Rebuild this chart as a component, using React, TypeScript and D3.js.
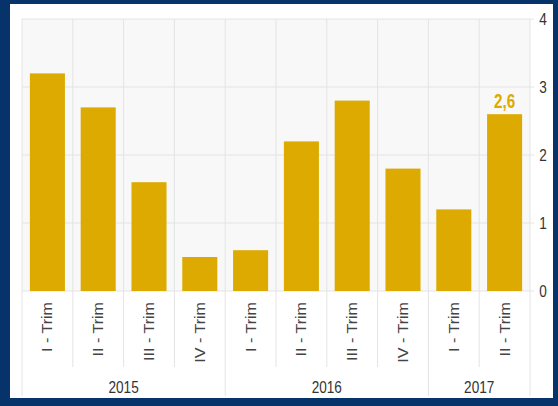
import React from 'react';
import * as d3 from 'd3';

// Quarterly values
const quarters = ['I - Trim', 'II - Trim', 'III - Trim', 'IV - Trim', 'I - Trim', 'II - Trim', 'III - Trim', 'IV - Trim', 'I - Trim', 'II - Trim'];
const years = ['2015', '2015', '2015', '2015', '2016', '2016', '2016', '2016', '2017', '2017'];
const values = [3.2, 2.7, 1.6, 0.5, 0.6, 2.2, 2.8, 1.8, 1.2, 2.6];
const yTicks = [0, 1, 2, 3, 4];
const highlightIndex = 9;
const highlightLabel = '2,6';

const W = 558;
const H = 406;
const NAVY = '#06346a';
const GOLD = '#dcaa00';
const GRID = '#e4e4e4';
const FONT = '"Liberation Sans", Arial, sans-serif';
// the reference text is slightly condensed horizontally
const SQUEEZE = 0.8;

const App = () => {
  // Layout
  const panel = { x: 10, y: 4, w: 543, h: 394 };
  const plot = { left: 22, right: 530, top: 19, bottom: 291 };
  const labelBottom = 367;
  const panelBottom = panel.y + panel.h;

  const idx = values.map((_, i) => String(i));

  // one cell per quarter, used for separator lines
  const cell = d3.scaleBand<string>().domain(idx).range([plot.left, plot.right]).padding(0);
  // bars centred inside their cells
  const x = d3.scaleBand<string>()
    .domain(idx)
    .range([plot.left, plot.right])
    .paddingInner(0.31)
    .paddingOuter(0.155);
  const y = d3.scaleLinear().domain([0, 4]).range([plot.bottom, plot.top]);

  // year groups
  const groups = d3.groups(idx, i => years[+i]).map(([year, ids]) => ({
    year,
    x0: cell(ids[0])!,
    x1: cell(ids[ids.length - 1])! + cell.step(),
  }));
  const groupEdges = new Set<number>();
  groups.forEach(g => { groupEdges.add(Math.round(g.x0)); groupEdges.add(Math.round(g.x1)); });

  const boundaries = d3.range(values.length + 1).map(i => plot.left + i * cell.step());

  return (
    <svg width={W} height={H} style={{ position: 'absolute', left: 0, top: 0, display: 'block' }}>
      <rect x={0} y={0} width={W} height={H} fill={NAVY} />
      <rect x={panel.x} y={panel.y} width={panel.w} height={panel.h} fill="#ffffff" />
      <rect x={plot.left} y={plot.top} width={plot.right - plot.left} height={plot.bottom - plot.top} fill="#f8f8f8" />

      {/* horizontal grid */}
      {yTicks.map(t => (
        <line key={'h' + t} x1={plot.left} x2={plot.right + 4} y1={y(t)} y2={y(t)} stroke={GRID} strokeWidth={1} />
      ))}

      {/* vertical separators */}
      {boundaries.map((bx, i) => {
        const full = groupEdges.has(Math.round(bx));
        return (
          <line key={'v' + i} x1={bx} x2={bx} y1={plot.top} y2={full ? panelBottom - 2 : labelBottom}
            stroke={GRID} strokeWidth={1} />
        );
      })}

      {/* bars */}
      {values.map((v, i) => (
        <rect key={'b' + i} x={x(String(i))} y={y(v)} width={x.bandwidth()} height={y(0) - y(v)} fill={GOLD} />
      ))}

      {/* value label */}
      <text transform={`translate(${x(String(highlightIndex))! + x.bandwidth() / 2},${y(values[highlightIndex]) - 6}) scale(${SQUEEZE},1.05)`}
        textAnchor="middle" fontFamily={FONT} fontSize={19} fontWeight="bold" fill={GOLD}>
        {highlightLabel}
      </text>

      {/* right y axis labels */}
      {yTicks.map(t => (
        <text key={'yt' + t} transform={`translate(543,${y(t)}) scale(${SQUEEZE},1)`} dy="0.35em" textAnchor="middle"
          fontFamily={FONT} fontSize={17} fill="#333333">{t}</text>
      ))}

      {/* quarter labels */}
      {quarters.map((q, i) => {
        const cx = cell(String(i))! + cell.step() / 2;
        return (
          <text key={'q' + i} transform={`translate(${cx},${plot.bottom + 11}) rotate(-90) scale(1.15,1)`}
            textAnchor="end" dy="0.35em" fontFamily={FONT} fontSize={14} fill="#444444">{q}</text>
        );
      })}

      {/* year labels */}
      {groups.map(g => (
        <text key={g.year} transform={`translate(${(g.x0 + g.x1) / 2},387) scale(${SQUEEZE},1)`} dy="0.35em" textAnchor="middle"
          fontFamily={FONT} fontSize={17} fill="#333333">{g.year}</text>
      ))}
    </svg>
  );
};

export default App;
